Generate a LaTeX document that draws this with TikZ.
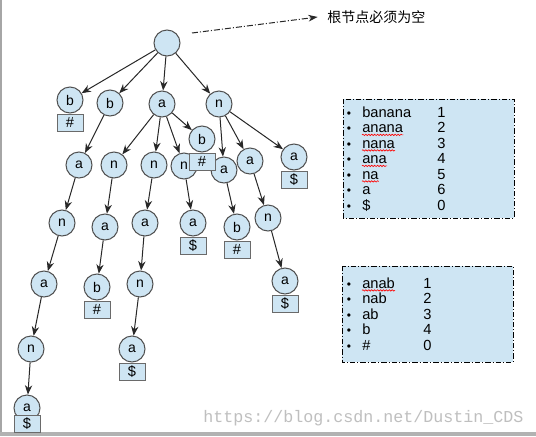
\documentclass[tikz,border=0pt]{standalone}
\usepackage{fontspec}
\setmainfont{Liberation Sans}
\newfontfamily\cjk{Noto Sans CJK SC}
\newfontfamily\wmfont{Liberation Mono}
\usetikzlibrary{arrows.meta,decorations.pathmorphing}
\definecolor{nodeblue}{RGB}{206,229,243}
\definecolor{nodeedge}{RGB}{80,80,80}
\definecolor{edgecol}{RGB}{40,40,40}
\tikzset{
 tnode/.style={circle,minimum size=19.5pt,inner sep=0pt,draw=nodeedge,fill=nodeblue,line width=0.75pt,font=\fontsize{10.5}{12}\selectfont},
 tbox/.style={rectangle,minimum width=19.5pt,minimum height=12.75pt,inner sep=0pt,draw=nodeedge!85,fill=nodeblue,line width=0.75pt,font=\fontsize{11}{12}\selectfont,anchor=north},
 tedge/.style={-{Stealth[length=7pt,width=5.5pt]},draw=edgecol,line width=0.75pt},
 lstbox/.style={draw=black,fill=nodeblue,line width=0.75pt,dash pattern=on 4pt off 1.5pt on 0.8pt off 1.5pt},
 item/.style={anchor=base west,inner sep=0pt,font=\fontsize{11}{12}\selectfont},
 bul/.style={anchor=base,inner sep=0pt,font=\fontsize{9}{12}\selectfont},
 spell/.style={draw=red,line width=0.5pt,decorate,decoration={snake,amplitude=0.5pt,segment length=2.2pt}},
}
\begin{document}
\begin{tikzpicture}[x=0.75pt,y=-0.75pt]
\fill[white] (0,0) rectangle (536,436);
\useasboundingbox (0,0) rectangle (536,436);
\fill[gray!70] (0,0) rectangle (2,436);
\fill[gray!60] (0,432) rectangle (536,436);

% watermark
\node[anchor=base west,inner sep=0pt,text=black!25,font=\wmfont\fontsize{12.5}{14}\selectfont] (wm) at (203,422) {https://blog.csdn.net/Dustin\_CDS};

% tree nodes
\node[tnode] (r) at (167,43) {};
\node[tnode] (b1) at (70,100) {b};
\node[tnode] (b2) at (110,103) {b};
\node[tnode] (a1) at (162,104) {a};
\node[tnode] (n1) at (219,104) {n};

\node[tnode] (p1) at (79,165) {a};
\node[tnode] (p2) at (62,223) {n};
\node[tnode] (p3) at (44,284) {a};
\node[tnode] (p4) at (31,349) {n};
\node[tnode] (p5) at (27,408) {a};

\node[tnode] (q1) at (114,165) {n};
\node[tnode] (q2) at (105,227) {a};
\node[tnode] (q3) at (97,287) {b};

\node[tnode] (s1) at (154,165) {n};
\node[tnode] (s2) at (145,223) {a};
\node[tnode] (s3) at (140,284) {n};
\node[tnode] (s4) at (132,349) {a};

\node[tnode] (t1) at (184,166) {n};
\node[tnode] (t2) at (193,223) {a};

\node[tnode] (ab) at (202,139) {b};

\node[tnode] (u1) at (224,170) {a};
\node[tnode] (u2) at (237,227) {b};

\node[tnode] (v1) at (250,161) {a};
\node[tnode] (v2) at (268,218) {n};
\node[tnode] (v3) at (285,281) {a};

\node[tnode] (w1) at (294,157) {a};

% edges
\draw[tedge] (r) -- (b1);
\draw[tedge] (r) -- (b2);
\draw[tedge] (r) -- (a1);
\draw[tedge] (r) -- (n1);
\draw[tedge] (b2) -- (p1);
\draw[tedge] (p1) -- (p2);
\draw[tedge] (p2) -- (p3);
\draw[tedge] (p3) -- (p4);
\draw[tedge] (p4) -- (p5);
\draw[tedge] (a1) -- (q1);
\draw[tedge] (q1) -- (q2);
\draw[tedge] (q2) -- (q3);
\draw[tedge] (a1) -- (s1);
\draw[tedge] (s1) -- (s2);
\draw[tedge] (s2) -- (s3);
\draw[tedge] (s3) -- (s4);
\draw[tedge] (a1) -- (t1);
\draw[tedge] (t1) -- (t2);
\draw[tedge] (a1) -- (ab);
\draw[tedge] (n1) -- (u1);
\draw[tedge] (u1) -- (u2);
\draw[tedge] (n1) -- (v1);
\draw[tedge] (v1) -- (v2);
\draw[tedge] (v2) -- (v3);
\draw[tedge] (n1) -- (w1);

% terminal boxes
\node[tbox] (b1e) at (b1.south) {\#};
\node[tbox] (p5e) at ([yshift=5pt]p5.south) {\$};
\node[tbox] (q3e) at (q3.south) {\#};
\node[tbox] (s4e) at (s4.south) {\$};
\node[tbox] (t2e) at (t2.south) {\$};
\node[tbox] (abe) at (ab.south) {\#};
\node[tbox] (u2e) at (u2.south) {\#};
\node[tbox] (v3e) at (v3.south) {\$};
\node[tbox] (w1e) at (w1.south) {\$};

% root note
\coordinate (rs) at (192,33);
\node[anchor=west,inner sep=0pt,font=\cjk\fontsize{10.5}{12}\selectfont] (lbl) at (327,17) {根节点必须为空};
\draw[draw=edgecol,line width=0.75pt,dash pattern=on 4.5pt off 1.5pt on 0.8pt off 1.5pt,-{Stealth[length=7pt,width=5pt]}] (rs) -- ([xshift=-7pt]lbl.west);

% list box 1
\path[lstbox] (343,99) rectangle (514,218);
\foreach \w/\n/\i in {banana/1/1,anana/2/2,nana/3/3,ana/4/4,na/5/5,a/6/6,\$/0/7}{
  \node[bul] (ba\i) at (349,{117+15.5*(\i-1)}) {•};
  \node[item] (wa\i) at (362,{117+15.5*(\i-1)}) {\w};
  \node[item] (na\i) at (437,{117+15.5*(\i-1)}) {\n};
}
\foreach \i in {2,3,4,5}{
  \draw[spell] ([yshift=-1.8pt]wa\i.base west) -- ([yshift=-1.8pt]wa\i.base east);
}

% list box 2
\path[lstbox] (342,266) rectangle (513,362);
\foreach \w/\n/\i in {anab/1/1,nab/2/2,ab/3/3,b/4/4,\#/0/5}{
  \node[bul] (bb\i) at (349,{288+15.5*(\i-1)}) {•};
  \node[item] (wb\i) at (362,{288+15.5*(\i-1)}) {\w};
  \node[item] (nb\i) at (423,{288+15.5*(\i-1)}) {\n};
}
\draw[spell] ([yshift=-1.8pt]wb1.base west) -- ([yshift=-1.8pt]wb1.base east);
\end{tikzpicture}
\end{document}
